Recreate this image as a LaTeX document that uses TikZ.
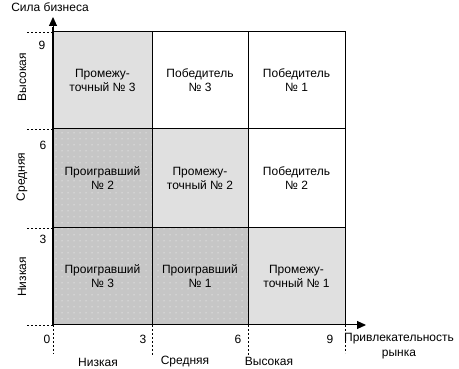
\documentclass[tikz,border=0pt]{standalone}
\usepackage{fontspec}
\setmainfont{Liberation Sans}
\usetikzlibrary{arrows.meta,patterns.meta}
\tikzdeclarepattern{
  name=wdots,
  type=uncolored,
  bounding box={(-0.5pt,-0.5pt) and (6.5pt,6.5pt)},
  tile size={(6pt,6pt)},
  code={\fill (2pt,2pt) circle (0.5pt);}
}
\definecolor{dotgray}{HTML}{C6C6C6}
\definecolor{checkgray}{HTML}{E0E0E0}
\begin{document}
\begin{tikzpicture}[x=1pt,y=-1pt,
  every node/.style={font=\fontsize{12}{14}\selectfont, inner sep=0pt},
  cell/.style={draw=black, line width=1pt, align=center},
  loser/.style={cell, preaction={fill=dotgray}, pattern=wdots, pattern color=white},
  mid/.style={cell, fill=checkgray},
  winner/.style={cell, fill=white},
  tick/.style={dashed, dash pattern=on 2pt off 2pt, line width=0.8pt},
  axis/.style={-{Triangle[length=9pt,width=8pt]}, line width=1pt}]
\useasboundingbox (0,0) rectangle (459,369);
% cells
\node[mid, minimum width=99pt, minimum height=97pt] (c13) at (102.5,80.5) {Промежу-\\точный № 3};
\node[winner, minimum width=96pt, minimum height=97pt] (c23) at (200,80.5) {Победитель\\№ 3};
\node[winner, minimum width=97pt, minimum height=97pt] (c33) at (296.5,80.5) {Победитель\\№ 1};
\node[loser, minimum width=99pt, minimum height=99pt] (c12) at (102.5,178.5) {Проигравший\\№ 2};
\node[mid, minimum width=96pt, minimum height=99pt] (c22) at (200,178.5) {Промежу-\\точный № 2};
\node[winner, minimum width=97pt, minimum height=99pt] (c32) at (296.5,178.5) {Победитель\\№ 2};
\node[loser, minimum width=99pt, minimum height=97pt] (c11) at (102.5,276.5) {Проигравший\\№ 3};
\node[loser, minimum width=96pt, minimum height=97pt] (c21) at (200,276.5) {Проигравший\\№ 1};
\node[mid, minimum width=97pt, minimum height=97pt] (c31) at (296.5,276.5) {Промежу-\\точный № 1};
% axes
\coordinate (o) at (53,325);
\coordinate (ytop) at (53,17);
\coordinate (xend) at (366,325);
\draw[axis] (o) -- (xend);
\draw[line width=2pt] (o) -- (53,27);
\draw[axis] (53,28) -- (ytop);
% dashed ticks
\coordinate (h9) at (27,32);
\coordinate (h6) at (27,129);
\coordinate (h3) at (27,228);
\coordinate (h0) at (27,325);
\draw[tick] (h9) -- (53,32);
\draw[tick] (h6) -- (53,129);
\draw[tick] (h3) -- (53,228);
\draw[tick] (h0) -- (53,325);
\coordinate (v0) at (53,354);
\coordinate (v3) at (152,356);
\coordinate (v6) at (248,356);
\coordinate (v9) at (345,353);
\draw[tick] (53,325) -- (v0);
\draw[tick] (152,325) -- (v3);
\draw[tick] (248,325) -- (v6);
\draw[tick] (345,325) -- (v9);
% numbers
\node (n9) at (42,45) {9};
\node (n6) at (43,145) {6};
\node (n3) at (43,239) {3};
\node (n0) at (47,339) {0};
\node (m3) at (143,339) {3};
\node (m6) at (238,339) {6};
\node (m9) at (330,339) {9};
% axis category labels
\node[rotate=90] (yh) at (22,77) {Высокая};
\node[rotate=90] (ym) at (22,177) {Средняя};
\node[rotate=90] (yl) at (22,277) {Низкая};
\node (xl) at (98,362) {Низкая};
\node (xm) at (185,362) {Средняя};
\node (xh) at (269,361) {Высокая};
% axis titles
\node (yt) at (50,7) {Сила бизнеса};
\node[align=center, font=\fontsize{12}{15}\selectfont] (xt) at (399,346) {Привлекательность\\рынка};
\end{tikzpicture}
\end{document}
